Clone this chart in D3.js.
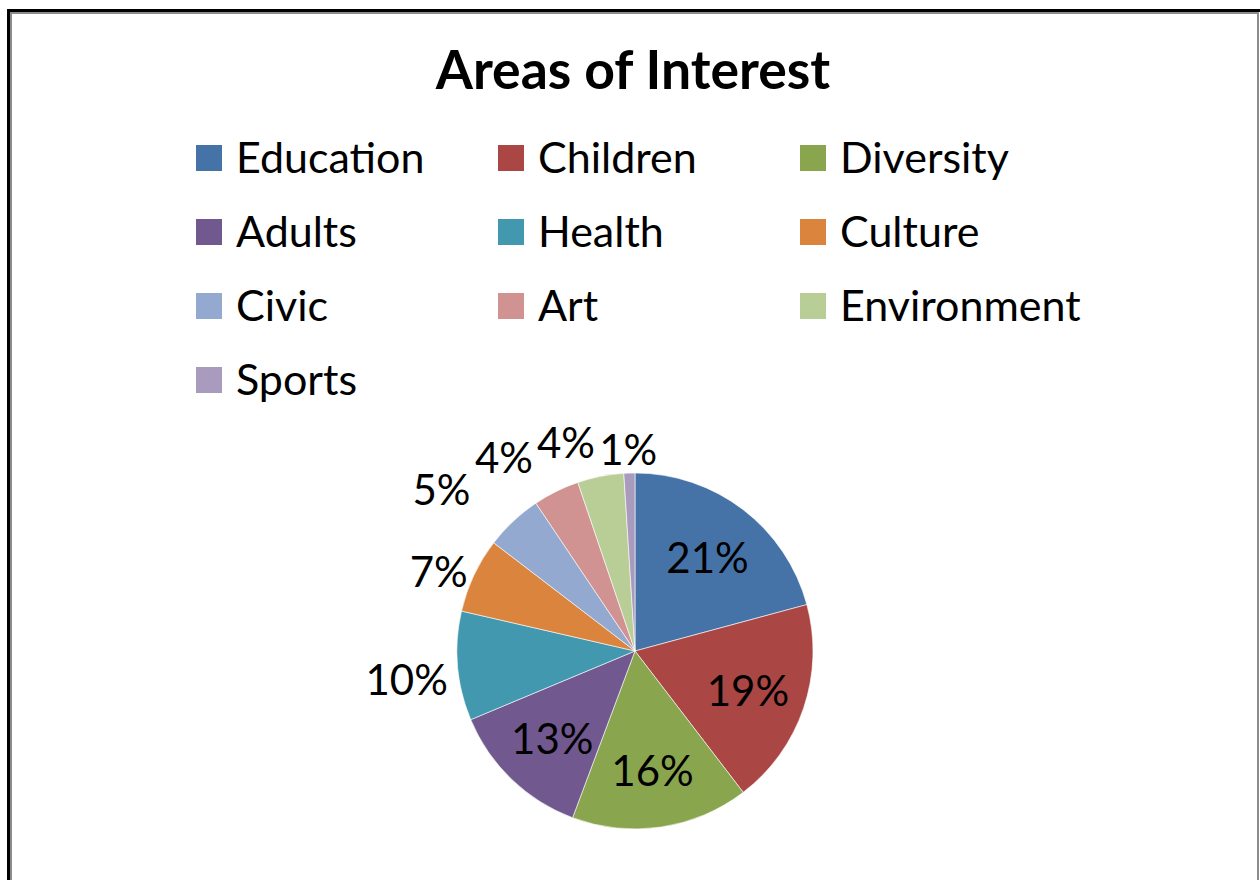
<!DOCTYPE html>
<meta charset="utf-8">
<style>
body { margin: 0; background: #fff; }
text { font-family: Lato, "Open Sans", sans-serif; fill: #000; }
</style>
<svg width="1260" height="880"></svg>
<script src="https://d3js.org/d3.v7.min.js"></script>
<script>

var categories = ["Education", "Children", "Diversity", "Adults", "Health",
                  "Culture", "Civic", "Art", "Environment", "Sports"];
var shares = [20.8, 18.8, 16.1, 13.0, 9.9, 6.8, 5.2, 4.2, 4.2, 1.0];
var colors = ["#4572A7", "#AA4643", "#89A54E", "#71588F", "#4198AF",
              "#DB843D", "#93A9CF", "#D19392", "#B9CD96", "#A99BBD"];

var svg = d3.select("svg"),
    cx = 635, cy = 651, radius = 178;

// frame
svg.append("rect")
    .attr("x", 8.5).attr("y", 10.5).attr("width", 1300).attr("height", 1000)
    .attr("fill", "none").attr("stroke", "#000").attr("stroke-width", 3);
svg.append("rect")
    .attr("x", 11).attr("y", 13).attr("width", 1247).attr("height", 1000)
    .attr("fill", "none").attr("stroke", "#8c8c8c").attr("stroke-width", 2);

svg.append("text")
    .attr("x", 633).attr("y", 89)
    .attr("text-anchor", "middle")
    .style("font-size", "53.5px").style("font-weight", "bold")
    .text("Areas of Interest");

// legend, 3 columns
var legend = svg.append("g").selectAll("g")
    .data(categories)
  .enter().append("g")
    .attr("transform", function(d, i) {
      return "translate(" + (196 + (i % 3) * 302) + "," + (145 + Math.floor(i / 3) * 74) + ")";
    });

legend.append("rect")
    .attr("width", 26).attr("height", 26)
    .attr("fill", function(d, i) { return colors[i]; });

legend.append("text")
    .attr("x", 40).attr("y", 28)
    .style("font-size", "43px")
    .text(function(d) { return d; });

// pie
var pie = d3.pie().sort(null).value(function(d) { return d; });
var arcs = pie(shares);
var arc = d3.arc().innerRadius(0).outerRadius(radius);
var labelArc = d3.arc().innerRadius(radius * 0.67).outerRadius(radius * 0.67);

var g = svg.append("g").attr("transform", "translate(" + cx + "," + cy + ")");

g.selectAll("path")
    .data(arcs)
  .enter().append("path")
    .attr("d", arc)
    .attr("fill", function(d, i) { return colors[i]; })
    .attr("stroke", "#fff").attr("stroke-width", 0.6);

var fontSize = 42, capH = fontSize * 0.72;

var labels = g.selectAll(".lbl")
    .data(arcs)
  .enter().append("text")
    .attr("class", "lbl")
    .attr("text-anchor", "middle")
    .style("font-size", fontSize + "px")
    .text(function(d) { return Math.round(d.value) + "%"; });

var R = radius + 10, H = 48, k = 11, gapX = 4, gapY = 10;
var placed = [];

labels.each(function(d) {
  d.w = this.getComputedTextLength();
  d.mid = (d.startAngle + d.endAngle) / 2;
  d.outside = (d.endAngle - d.startAngle) * radius * 0.67 < d.w + 10;
});

// inside labels
labels.filter(function(d) { return !d.outside; })
    .attr("x", function(d) { return labelArc.centroid(d)[0]; })
    .attr("y", function(d) { return labelArc.centroid(d)[1] + 2 + capH / 2; });

// outside labels, from the last slice backwards, nudged off neighbours
var outer = arcs.filter(function(d) { return d.outside; }).reverse();
outer.forEach(function(d) {
  var s = Math.sin(d.mid), c = Math.cos(d.mid);
  var x = s * (R + d.w / 2), y = -c * (R + H / 2) + k;
  var dir = s < 0 ? -1 : 1;
  function hits() {
    return placed.some(function(p) {
      return Math.abs(x - p.x) < (d.w + p.w) / 2 + gapX &&
             Math.abs(y - p.y) < H + gapY;
    });
  }
  var n = 0;
  while (hits() && n < 300) { x += dir; y -= 0.4; n++; }
  d.lx = x; d.ly = y;
  placed.push({x: x, y: y, w: d.w});
});

labels.filter(function(d) { return d.outside; })
    .attr("x", function(d) { return d.lx; })
    .attr("y", function(d) { return d.ly + capH / 2; });

</script>
